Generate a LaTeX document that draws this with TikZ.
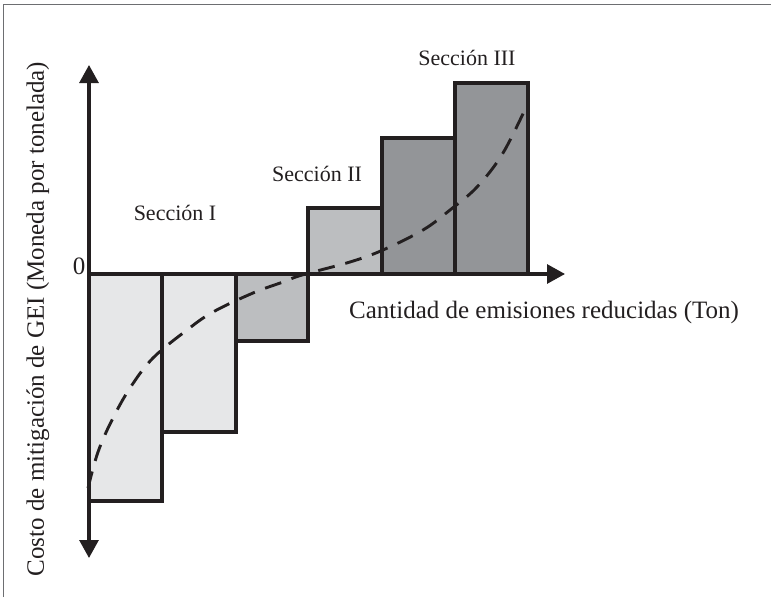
\documentclass[tikz,border=0pt]{standalone}
\usepackage{fontspec}
\setmainfont{Liberation Serif}
\usetikzlibrary{arrows.meta}
\definecolor{ink}{HTML}{231F20}
\definecolor{frame}{HTML}{6D6E71}
\definecolor{barlight}{HTML}{E6E7E8}
\definecolor{barmid}{HTML}{BCBEC0}
\definecolor{bardark}{HTML}{939598}
\tikzset{
  bar/.style={draw=ink, line width=3.1pt, line join=miter},
  axis/.style={draw=ink, line width=3.1pt, {Triangle[length=18pt,width=19pt]}-{Triangle[length=18pt,width=19pt]}},
  axisr/.style={draw=ink, line width=3.1pt, -{Triangle[length=18pt,width=19pt]}},
  curve/.style={draw=ink, line width=2.9pt, dash pattern=on 17pt off 11pt},
  lbl/.style={inner sep=0pt, text=ink, font=\fontsize{25}{28}\selectfont},
  seclbl/.style={inner sep=0pt, text=ink, font=\fontsize{22}{25}\selectfont},
}
\begin{document}
\begin{tikzpicture}[x=1pt,y=-1pt]
\useasboundingbox (0,0) rectangle (771,597);
% frame (top and left only)
\draw[frame, line width=1.5pt] (3.5,597) -- (3.5,4.5) -- (771,4.5);
% bars
\path[bar, fill=barlight] (89,274) rectangle (162,501);
\path[bar, fill=barlight] (162,274) rectangle (236,432);
\path[bar, fill=barmid] (236,274) rectangle (308,341);
\path[bar, fill=barmid] (308,274) rectangle (382,208);
\path[bar, fill=bardark] (382,274) rectangle (455,138);
\path[bar, fill=bardark] (455,274) rectangle (528,83);
% dashed curve
\draw[curve] plot[smooth, tension=0.6] coordinates {(88,488) (98,452) (112,420) (130,388) (153,358) (187,330) (213,312) (253,293) (283,282) (302,275) (350,262) (383,250) (423,230) (450,210) (477,187) (503,153) (528,103)};
% axes
\coordinate (ybot) at (89,558);
\coordinate (ytop) at (89,65);
\coordinate (xorg) at (88,274);
\coordinate (xend) at (565,274);
\draw[axis] (ybot) -- (ytop);
\draw[axisr] (xorg) -- (xend);
% labels
\node[lbl] (zero) at (79,266) {0};
\node[lbl] (xlab) at (544,312) {Cantidad de emisiones reducidas (Ton)};
\node[lbl, rotate=90] (ylab) at (38,319) {Costo de mitigación de GEI (Moneda por tonelada)};
\node[seclbl] (s1) at (175,213) {Sección I};
\node[seclbl] (s2) at (317,174) {Sección II};
\node[seclbl] (s3) at (467,58) {Sección III};
\end{tikzpicture}
\end{document}
